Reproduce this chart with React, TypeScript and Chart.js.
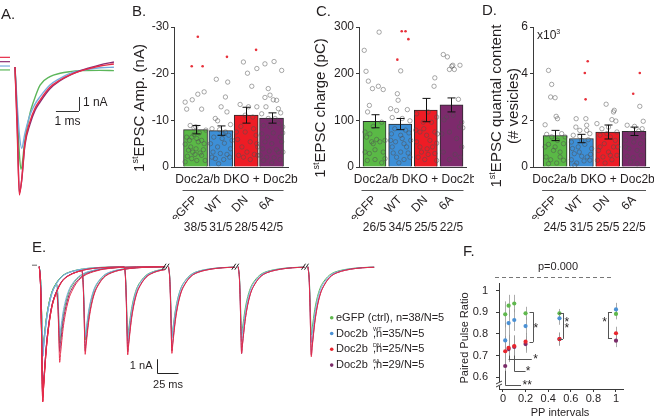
import React, { useEffect, useRef } from 'react';
import { Chart, registerables } from 'chart.js';

Chart.register(...registerables);

const FONT = '"Liberation Sans", Arial, Helvetica, sans-serif';
const INK = '#231f20';
const AXIS = '#3a3a3a';
Chart.defaults.font.family = FONT;

// ---------------- shared ----------------
const GROUPS = ['eGFP', 'WT', 'DN', '6A'];
const BAR_FILL = ['#5ab946', '#3d8fd7', '#ee1c25', '#7d2a6c'];
const TRACE = ['#5cb65a', '#78acdd', '#e62b48', '#8b2d72'];
const DOT = ['#5fb84d', '#4a90d4', '#e8262e', '#7a2b68'];

// ---------------- A: example traces (t in ms, I in nA) ----------------
const A_T_EGFP = [0, 0.1, 0.19, 0.26, 0.43, 0.65, 0.8, 1.09, 1.52, 1.96, 2.39, 2.83, 3.7, 4.3];
const A_I_EGFP = [0, -3.4, -6.2, -7.31, -5.21, -3.31, -2.5, -1.29, -0.69, -0.45, -0.33, -0.26, -0.24, -0.26];
const A_T_WT = [0, 0.1, 0.19, 0.29, 0.43, 0.65, 0.87, 1.09, 1.52, 1.96, 2.39, 2.83, 3.7, 4.3];
const A_I_WT = [0, -2.8, -4.8, -5.81, -4.74, -3.43, -2.65, -2.12, -1.29, -0.81, -0.45, -0.26, -0.05, -0.02];
const A_T_DN = [0, 0.1, 0.19, 0.29, 0.43, 0.65, 0.87, 1.09, 1.52, 1.96, 2.39, 2.83, 3.26, 3.7, 4.3];
const A_I_DN = [0, -4.8, -9.14, -8.07, -5.45, -3.9, -2.95, -2.36, -1.45, -0.93, -0.57, -0.29, -0.1, 0.07, 0.21];
const A_T_6A = [0, 0.1, 0.19, 0.29, 0.43, 0.65, 0.87, 1.09, 1.52, 1.96, 2.39, 2.83, 3.26, 3.7, 4.3];
const A_I_6A = [0, -4.2, -9.0, -8.1, -5.6, -4.1, -3.1, -2.5, -1.55, -0.98, -0.58, -0.27, -0.05, 0.15, 0.36];
const A_BASE = [-0.21, 0.07, 0.69, 0.38];

// ---------------- B: 1st EPSC amplitude (nA) ----------------
const B_TICKS = [-30, -20, -10, 0];
const B_MEAN = [-8.0, -7.8, -11.1, -10.5];
const B_SEM = [0.9, 1.0, 1.7, 1.1];
const B_COUNTS = ['38/5', '31/5', '28/5', '42/5'];
const B_EGFP: [number, number][] = [[-13.9, -0.41], [-12.4, -0.35], [-14.4, -0.13], [-15.6, 0.09], [-12.4, 0.24], [-16.1, 0.34], [-8.6, 0.01], [-8.4, -0.06], [-6.4, -0.35], [-5.7, -0.24], [-6.4, -0.15], [-7.0, -0.06], [-6.1, 0.05], [-5.4, 0.11], [-5.7, 0.24], [-5.0, 0.34], [-4.9, -0.41], [-3.6, -0.28], [-3.2, -0.11], [-3.9, 0.02], [-3.0, 0.18], [-3.7, 0.31], [-2.3, -0.32], [-1.8, -0.15], [-1.4, 0.05], [-2.5, 0.24], [-1.4, 0.38], [-1.1, -0.41], [-2.7, -0.02], [-4.3, -0.19], [-7.3, 0.15], [-7.9, 0.41], [-8.9, -0.21]];
const B_WT: [number, number][] = [[-18.8, -0.18], [-18.2, 0.27], [-15.0, 0.18], [-12.9, 0.01], [-11.8, 0.24], [-10.4, -0.22], [-9.9, -0.13], [-9.1, 0.38], [-8.2, -0.35], [-8.0, -0.05], [-7.5, 0.18], [-6.4, -0.28], [-6.1, 0.05], [-6.8, 0.31], [-5.0, -0.41], [-4.3, -0.13], [-5.1, 0.14], [-3.9, 0.38], [-3.2, -0.31], [-2.9, -0.02], [-2.7, 0.24], [-1.8, -0.22], [-1.6, 0.11], [-2.1, 0.35], [-0.7, -0.09], [-2.1, -0.35], [-5.7, 0.44], [-7.1, 0.09]];
const B_DN: [number, number][] = [[-22.5, -0.11], [-20.1, 0.05], [-21.1, 0.42], [-17.3, 0.22], [-12.9, 0.09], [-12.9, 0.42], [-13.4, -0.24], [-7.5, -0.39], [-7.5, -0.04], [-8.2, 0.29], [-5.9, -0.34], [-5.4, 0.16], [-5.0, 0.42], [-4.3, -0.17], [-3.2, 0.03], [-2.7, 0.32], [-2.5, 0.45], [-2.5, -0.3], [-2.1, -0.11], [-1.6, 0.16], [-6.8, 0.39], [-8.7, -0.21], [-4.3, 0.45], [-11.1, -0.04], [-10.7, 0.26]];
const B_6A: [number, number][] = [[-22.6, 0.1], [-22.1, -0.26], [-20.7, 0.4], [-16.8, -0.13], [-15.4, -0.06], [-14.4, 0.07], [-14.3, 0.2], [-12.5, 0.27], [-12.9, -0.22], [-11.4, -0.39], [-11.6, 0.36], [-8.9, -0.32], [-8.6, -0.06], [-9.4, 0.27], [-8.6, 0.44], [-7.1, -0.39], [-6.4, -0.16], [-7.3, 0.07], [-6.4, 0.34], [-5.4, -0.26], [-5.0, 0.01], [-5.4, 0.4], [-3.9, -0.35], [-3.4, -0.09], [-3.7, 0.2], [-3.2, 0.45], [-2.1, -0.19], [-2.0, 0.1], [-1.6, 0.34], [-1.4, -0.32], [-0.9, 0.01], [-7.3, 0.44], [-10.4, 0.14], [-10.4, -0.13], [-2.5, -0.45], [-3.2, 0.27], [-14.9, -0.26]];
const B_RED: [number, number, number][] = [[0, -21.6, -0.15], [0, -27.9, 0.09], [0, -21.6, 0.28], [1, -23.6, 0.24], [2, -25.1, 0.39]];

// ---------------- C: 1st EPSC charge (pC) ----------------
const C_TICKS = [0, 100, 200, 300];
const C_MEAN = [98, 92, 122, 133];
const C_SEM = [14, 12, 25, 15];
const C_COUNTS = ['26/5', '34/5', '25/5', '22/5'];
const C_EGFP: [number, number][] = [[250, -0.4], [205, -0.33], [184, -0.24], [168, -0.08], [173, 0.15], [289, 0.18], [166, 0.34], [132, -0.2], [118, -0.27], [75, -0.37], [71, -0.18], [87, -0.05], [96, 0.28], [59, 0.08], [54, -0.11], [54, 0.21], [57, 0.41], [32, -0.37], [29, -0.2], [37, 0.02], [32, 0.34], [14, -0.28], [16, 0.02], [9, 0.28], [18, 0.41], [64, -0.31], [50, -0.05]];
const C_WT: [number, number][] = [[206, 0.02], [157, -0.11], [143, -0.08], [125, -0.37], [121, -0.14], [123, 0.28], [106, -0.31], [104, 0.08], [99, 0.38], [82, -0.21], [79, 0.21], [71, -0.34], [68, 0.02], [73, 0.34], [54, -0.18], [50, 0.15], [57, 0.41], [43, -0.31], [32, 0.02], [30, 0.31], [21, -0.14], [16, 0.15], [21, 0.38], [9, -0.05], [43, 0.25], [57, -0.37], [61, 0.08], [30, -0.27]];
const C_DN: [number, number][] = [[191, 0.35], [173, 0.32], [118, 0.09], [114, -0.36], [96, -0.1], [96, 0.22], [107, 0.42], [75, -0.23], [68, 0.03], [75, 0.35], [54, -0.36], [57, 0.16], [51, 0.42], [32, -0.17], [27, 0.09], [29, 0.35], [21, -0.3], [16, -0.04], [14, 0.42], [43, 0.26], [43, -0.23], [39, 0.05], [82, -0.08], [79, -0.39], [71, 0.45]];
const C_6A: [number, number][] = [[241, -0.32], [236, -0.16], [218, 0.05], [209, -0.08], [209, 0.11], [218, 0.33], [216, 0.01], [145, 0.27], [101, -0.29], [107, -0.19], [111, 0.07], [96, 0.4], [86, 0.31], [84, 0.44], [71, -0.38], [75, -0.08], [61, 0.2], [43, 0.4], [32, -0.32], [27, 0.14], [16, -0.08], [21, 0.33]];
const C_RED: [number, number, number][] = [[1, 291, 0.06], [1, 291, 0.21], [1, 274, 0.32], [1, 230, -0.11]];

// ---------------- D: quantal content (x10^3 vesicles) ----------------
const D_TICKS = [0, 2, 4, 6];
const D_MEAN = [1.35, 1.22, 1.5, 1.53];
const D_SEM = [0.22, 0.18, 0.3, 0.18];
const D_COUNTS = ['24/5', '31/5', '25/5', '22/5'];
const D_EGFP: [number, number][] = [[4.14, -0.25], [3.54, -0.13], [3.0, -0.17], [2.97, 0], [2.17, 0.04], [2.07, 0.09], [1.81, -0.38], [1.4, -0.32], [1.43, 0.25], [1.29, -0.13], [1.14, 0.09], [0.97, -0.25], [1.0, 0.32], [0.71, -0.06], [0.64, 0.19], [0.43, -0.34], [0.31, -0.17], [0.17, 0.06], [0.29, 0.32], [0.14, -0.25], [0.43, 0.19], [0.86, 0], [0.86, -0.38], [1.29, 0.38]];
const D_WT: [number, number][] = [[1.71, -0.21], [2.07, 0.17], [1.79, 0.2], [1.57, 0.2], [1.36, -0.31], [1.31, -0.06], [1.43, 0.32], [1.07, -0.38], [0.86, -0.12], [0.97, 0.13], [0.79, 0.39], [0.57, -0.27], [0.46, 0.01], [0.43, 0.22], [0.31, -0.38], [0.17, -0.18], [0.26, 0.1], [0.29, 0.32], [0.64, -0.08], [0.07, -0.25], [0.54, 0.35], [1.14, 0.01], [0.79, -0.34], [1.17, 0.26], [1.57, -0.06], [2.07, -0.2]];
const D_DN: [number, number][] = [[2.69, -0.06], [2.36, 0.22], [2.43, 0.25], [2.03, 0.16], [1.97, 0.31], [1.86, -0.41], [1.64, -0.22], [1.71, 0.03], [1.5, 0.35], [1.36, -0.29], [1.29, 0.1], [1.0, -0.13], [0.86, 0.22], [0.71, -0.35], [0.64, 0.03], [0.5, 0.35], [0.43, -0.18], [0.31, 0.16], [0.17, -0.1], [0.29, -0.39], [1.14, 0.29], [0.86, -0.29], [0.5, 0.1], [0.86, 0.38], [1.43, -0.03]];
const D_6A: [number, number][] = [[2.6, 0.22], [1.96, 0.35], [1.64, 0.31], [1.79, -0.26], [1.74, 0.02], [1.54, 0.18], [1.43, -0.16], [1.14, -0.32], [1.07, -0.01], [1.0, 0.25], [0.79, -0.2], [0.71, 0.12], [0.46, -0.26], [0.4, -0.03], [0.5, 0.27], [0.21, -0.13], [0.14, 0.12], [0.86, -0.32], [1.29, 0.35], [1.29, 0.06]];
const D_RED: [number, number, number][] = [[1, 4.53, 0.24], [1, 4.03, 0.13], [1, 2.9, 0.16], [3, 3.14, -0.03], [3, 4.03, 0.22]];

// ---------------- E: paired-pulse traces ----------------
const E_TPL_T = [-4, -2.5, -1.5, -0.8, 0, 1, 2.5, 4, 6, 8.5, 11.5, 15, 19, 24, 31, 40, 52, 68, 90, 130];
const E_TPL_V = [0, 0.15, 0.45, 0.75, 1, 0.9, 0.76, 0.63, 0.5, 0.38, 0.28, 0.21, 0.15, 0.1, 0.065, 0.04, 0.02, 0.008, 0.002, 0];
const E_INTERVALS = [20, 50, 100, 200, 500, 1000];
const E_P1 = [6.07, 6.4, 9.64, 9.3];
const E_P2_EGFP = [5.48, 5.24, 5.05, 5.0, 4.88, 4.88];
const E_P2_WT = [5.0, 5.0, 5.3, 5.1, 5.3, 5.4];
const E_P2_DN = [6.83, 6.26, 6.3, 6.19, 6.19, 6.43];
const E_P2_6A = [6.05, 6.0, 6.1, 6.0, 6.2, 6.3];
const LEGEND_NAME = ['eGFP (ctrl),', 'Doc2b', 'Doc2b', 'Doc2b'];
const LEGEND_SUP = ['', 'WT', 'DN', '6A'];
const LEGEND_N = ['n=38/N=5', 'n=35/N=5', 'n=25/N=5', 'n=29/N=5'];

// ---------------- F: paired pulse ratio ----------------
const F_X = [0.02, 0.05, 0.1, 0.2, 0.5, 1];
const F_EGFP = [0.89, 0.93, 0.94, 0.895, 0.895, 0.892];
const F_WT = [0.77, 0.85, 0.864, 0.836, 0.872, 0.913];
const F_DN = [0.72, 0.736, 0.744, 0.764, 0.776, 0.803];
const F_6A = [0.652, 0.73, 0.74, 0.753, 0.776, 0.769];
const F_SEM_EGFP = [0.06, 0.05, 0.04, 0.03, 0.02, 0.025];
const F_SEM_WT = [0.08, 0.06, 0.05, 0.04, 0.03, 0.03];
const F_SEM_DN = [0.07, 0.06, 0.05, 0.04, 0.03, 0.03];
const F_SEM_6A = [0.07, 0.06, 0.05, 0.04, 0.03, 0.03];
const F_XTICKS = [0, 0.2, 0.4, 0.6, 0.8, 1];
const F_YTICKS = [0.6, 0.7, 0.8, 0.9, 1];

// ---------------- layout (page px) ----------------
type Box = { x: number; y: number; w: number; h: number };
const BOX_A: Box = { x: 0, y: 0, w: 128, h: 240 };
const BOX_B: Box = { x: 126, y: 0, w: 174, h: 240 };
const BOX_C: Box = { x: 300, y: 0, w: 174, h: 240 };
const BOX_D: Box = { x: 474, y: 0, w: 180, h: 240 };
const BOX_E: Box = { x: 28, y: 240, w: 425, h: 179 };
const BOX_F: Box = { x: 455, y: 244, w: 199, h: 175 };

function txt(ctx: CanvasRenderingContext2D, s: string, x: number, y: number, size: number, align: CanvasTextAlign = 'left', color = INK) {
  ctx.save();
  ctx.font = `${size}px ${FONT}`;
  ctx.fillStyle = color;
  ctx.textAlign = align;
  ctx.textBaseline = 'middle';
  ctx.fillText(s, x, y);
  ctx.restore();
}

function richText(ctx: CanvasRenderingContext2D, parts: [string, boolean][], x: number, y: number, size: number, align: 'left' | 'center' | 'right', rotate: boolean) {
  ctx.save();
  ctx.translate(x, y);
  if (rotate) ctx.rotate(-Math.PI / 2);
  const supSize = Math.round(size * 0.62);
  const widths = parts.map(([s, sup]) => {
    ctx.font = `${sup ? supSize : size}px ${FONT}`;
    return ctx.measureText(s).width;
  });
  const total = widths.reduce((a, b) => a + b, 0);
  let cx = align === 'center' ? -total / 2 : align === 'right' ? -total : 0;
  ctx.fillStyle = INK;
  ctx.textAlign = 'left';
  ctx.textBaseline = 'alphabetic';
  parts.forEach(([s, sup], i) => {
    ctx.font = `${sup ? supSize : size}px ${FONT}`;
    ctx.fillText(s, cx, sup ? -size * 0.08 : size * 0.36);
    cx += widths[i];
  });
  ctx.restore();
}

function line(ctx: CanvasRenderingContext2D, x1: number, y1: number, x2: number, y2: number) {
  ctx.beginPath();
  ctx.moveTo(x1, y1);
  ctx.lineTo(x2, y2);
  ctx.stroke();
}

const zeroPad = (sc: any) => {
  sc.paddingLeft = 0;
  sc.paddingRight = 0;
  sc.paddingTop = 0;
  sc.paddingBottom = 0;
};

// ---------------- bar panels ----------------
interface BarSpec {
  box: Box;
  area: { l: number; t: number; r: number; b: number };
  xRange: [number, number];
  yRange: [number, number];
  reverse: boolean;
  ticks: number[];
  mean: number[];
  sem: number[];
  dots: [number, number][][];
  red: [number, number, number][];
  counts: string[];
  barW: number;
  letter: string;
  letterPos: [number, number];
  title: [string, boolean][][];
  titleX: number[];
  titleY: number;
  groupShift: number;
  extra?: (ctx: CanvasRenderingContext2D, box: Box) => void;
}

function barConfig(s: BarSpec): any {
  const yW = s.area.l - s.box.x;
  const padR = s.box.x + s.box.w - s.area.r;
  const padT = s.area.t - s.box.y;
  const below = s.box.y + s.box.h - s.area.b;
  const H1 = 52;
  const H2 = 18;
  const padB = below - H1 - H2;
  const idx = [0, 1, 2, 3];
  const datasets: any[] = [
    {
      type: 'bar',
      data: s.mean.map((m, i) => ({ x: i, y: m })),
      backgroundColor: BAR_FILL,
      borderColor: '#2b2b2b',
      borderWidth: 1,
      barThickness: s.barW,
      order: 3,
    },
  ];
  s.dots.forEach((g, gi) =>
    datasets.push({
      type: 'scatter',
      data: g.map(([v, j]) => ({ x: gi + j, y: v })),
      pointRadius: 2.2,
      pointBorderWidth: 0.9,
      pointBorderColor: 'rgba(80,80,80,0.55)',
      pointBackgroundColor: 'rgba(0,0,0,0)',
      order: 2,
    })
  );
  datasets.push({
    type: 'scatter',
    data: s.red.map(([gi, v, j]) => ({ x: gi + j, y: v })),
    pointRadius: 1.3,
    pointBorderWidth: 0,
    pointBackgroundColor: '#e8303a',
    order: 1,
  });
  const decor = {
    id: 'barDecor',
    afterDatasetsDraw(chart: any) {
      const { ctx } = chart;
      const x = chart.scales.x;
      const y = chart.scales.y;
      ctx.save();
      ctx.strokeStyle = '#111';
      ctx.lineWidth = 1;
      s.mean.forEach((m, i) => {
        const px = Math.round(x.getPixelForValue(i)) + 0.5;
        const y1 = y.getPixelForValue(m - s.sem[i]);
        const y2 = y.getPixelForValue(m + s.sem[i]);
        line(ctx, px, y1, px, y2);
        line(ctx, px - 4, y1, px + 4, y1);
        line(ctx, px - 4, y2, px + 4, y2);
      });
      ctx.restore();
    },
    afterDraw(chart: any) {
      const { ctx, chartArea } = chart;
      const x = chart.scales.x;
      const c0 = x.getPixelForValue(0);
      const c3 = x.getPixelForValue(3);
      const mid = (c0 + c3) / 2 + s.groupShift;
      txt(ctx, 'Doc2a/b DKO + Doc2b', mid, chartArea.bottom + 13, 12, 'center');
      ctx.save();
      ctx.strokeStyle = '#555';
      ctx.lineWidth = 1;
      line(ctx, c0 - 13, Math.round(chartArea.bottom + 23) + 0.5, c3 + 12, Math.round(chartArea.bottom + 23) + 0.5);
      ctx.restore();
      txt(ctx, s.letter, s.letterPos[0] - s.box.x, s.letterPos[1] - s.box.y, 15, 'left');
      s.title.forEach((parts, li) => richText(ctx, parts, s.titleX[li] - s.box.x, s.titleY - s.box.y, 15, 'center', true));
      if (s.extra) s.extra(ctx, s.box);
    },
  };
  const tickFont = { family: FONT, size: 12 };
  return {
    type: 'bar',
    data: { datasets },
    options: {
      animation: false,
      responsive: false,
      devicePixelRatio: 1,
      layout: { padding: { left: 0, right: padR, top: padT, bottom: padB } },
      plugins: { legend: { display: false }, tooltip: { enabled: false } },
      scales: {
        x: {
          type: 'linear',
          position: 'bottom',
          min: s.xRange[0],
          max: s.xRange[1],
          offset: false,
          afterBuildTicks: (sc: any) => {
            sc.ticks = idx.map((v) => ({ value: v }));
          },
          ticks: { autoSkip: false, minRotation: 45, maxRotation: 45, padding: 26, color: INK, font: tickFont, callback: (v: any) => GROUPS[v] },
          grid: { display: false, drawTicks: false },
          border: { display: true, color: AXIS, width: 1 },
          afterFit: (sc: any) => {
            sc.height = H1;
            zeroPad(sc);
          },
        },
        xc: {
          type: 'linear',
          position: 'bottom',
          weight: 1,
          min: s.xRange[0],
          max: s.xRange[1],
          offset: false,
          afterBuildTicks: (sc: any) => {
            sc.ticks = idx.map((v) => ({ value: v }));
          },
          ticks: { autoSkip: false, minRotation: 0, maxRotation: 0, padding: 1, color: INK, font: tickFont, callback: (v: any) => s.counts[v] },
          grid: { display: false, drawTicks: false },
          border: { display: false },
          afterFit: (sc: any) => {
            sc.height = H2;
            zeroPad(sc);
          },
        },
        y: {
          type: 'linear',
          min: s.yRange[0],
          max: s.yRange[1],
          reverse: s.reverse,
          afterBuildTicks: (sc: any) => {
            sc.ticks = s.ticks.map((v) => ({ value: v }));
          },
          ticks: { padding: 2, color: INK, font: tickFont },
          grid: { display: true, drawOnChartArea: false, drawTicks: true, tickLength: 3, color: AXIS },
          border: { display: true, color: AXIS, width: 1 },
          afterFit: (sc: any) => {
            sc.width = yW;
            zeroPad(sc);
          },
        },
      },
    },
    plugins: [decor],
  };
}

const ST: [string, boolean][] = [['1', false], ['st', true]];

const SPEC_B: BarSpec = {
  box: BOX_B,
  area: { l: 174, t: 27, r: 288, b: 167 },
  xRange: [-0.85, 3.65],
  yRange: [-30, 0],
  reverse: true,
  ticks: B_TICKS,
  mean: B_MEAN,
  sem: B_SEM,
  dots: [B_EGFP, B_WT, B_DN, B_6A],
  red: B_RED,
  counts: B_COUNTS,
  barW: 24,
  letter: 'B.',
  letterPos: [132, 12],
  title: [[...ST, ['EPSC Amp. (nA)', false]]],
  titleX: [139],
  titleY: 108,
  groupShift: 3,
};

const SPEC_C: BarSpec = {
  box: BOX_C,
  area: { l: 359, t: 27, r: 466, b: 167 },
  xRange: [-0.604, 3.565],
  yRange: [0, 300],
  reverse: false,
  ticks: C_TICKS,
  mean: C_MEAN,
  sem: C_SEM,
  dots: [C_EGFP, C_WT, C_DN, C_6A],
  red: C_RED,
  counts: C_COUNTS,
  barW: 23,
  letter: 'C.',
  letterPos: [316, 12],
  title: [[...ST, ['EPSC charge (pC)', false]]],
  titleX: [320],
  titleY: 108,
  groupShift: 2,
};

const SPEC_D: BarSpec = {
  box: BOX_D,
  area: { l: 533, t: 27, r: 649, b: 167 },
  xRange: [-0.84, 3.57],
  yRange: [0, 6],
  reverse: false,
  ticks: D_TICKS,
  mean: D_MEAN,
  sem: D_SEM,
  dots: [D_EGFP, D_WT, D_DN, D_6A],
  red: D_RED,
  counts: D_COUNTS,
  barW: 24,
  letter: 'D.',
  letterPos: [482, 11],
  title: [[...ST, ['EPSC quantal content', false]], [['(# vesicles)', false]]],
  titleX: [496, 513],
  titleY: 106,
  groupShift: -1,
  extra: (ctx, box) => {
    richText(ctx, [['x10', false], ['3', true]], 537 - box.x, 35 - box.y, 12, 'left', false);
  },
};

// ---------------- A config ----------------
function configA(): any {
  const b = BOX_A;
  const xMin = (b.x - 15) / 23;
  const xMax = (b.x + b.w - 15) / 23;
  const yMax = (67 - b.y) / 14;
  const yMin = (67 - (b.y + b.h)) / 14;
  const traces: [number[], number[], number][] = [
    [A_T_DN, A_I_DN, 2],
    [A_T_6A, A_I_6A, 3],
    [A_T_WT, A_I_WT, 1],
    [A_T_EGFP, A_I_EGFP, 0],
  ];
  const datasets: any[] = traces.map(([t, v, g]) => ({
    data: t.map((tt, i) => ({ x: tt, y: v[i] })),
    borderColor: TRACE[g],
    borderWidth: 1.4,
    pointRadius: 0,
    cubicInterpolationMode: 'monotone',
    fill: false,
  }));
  A_BASE.forEach((lv, g) =>
    datasets.push({ data: [{ x: xMin, y: lv }, { x: xMin + 10 / 23, y: lv }], borderColor: TRACE[g], borderWidth: 1.2, pointRadius: 0 })
  );
  const corner = { t: 2.78, i: -3.14 };
  const decor = {
    id: 'aDecor',
    afterDraw(chart: any) {
      const { ctx } = chart;
      const x = chart.scales.x;
      const y = chart.scales.y;
      const cx = x.getPixelForValue(corner.t);
      const cy = y.getPixelForValue(corner.i);
      const top = y.getPixelForValue(corner.i + 1);
      const left = x.getPixelForValue(corner.t - 1);
      ctx.save();
      ctx.strokeStyle = '#333';
      ctx.lineWidth = 1;
      line(ctx, Math.round(cx) + 0.5, top, Math.round(cx) + 0.5, cy);
      line(ctx, left, Math.round(cy) + 0.5, cx, Math.round(cy) + 0.5);
      ctx.restore();
      txt(ctx, '1 nA', cx + 4, (top + cy) / 2 - 1, 12, 'left');
      txt(ctx, '1 ms', (left + cx) / 2, cy + 11, 12, 'center');
      txt(ctx, 'A.', 1 - b.x, 15 - b.y, 15, 'left');
    },
  };
  return {
    type: 'line',
    data: { datasets },
    options: {
      animation: false,
      responsive: false,
      devicePixelRatio: 1,
      layout: { padding: 0 },
      plugins: { legend: { display: false }, tooltip: { enabled: false } },
      scales: {
        x: { type: 'linear', display: false, min: xMin, max: xMax },
        y: { type: 'linear', display: false, min: yMin, max: yMax },
      },
    },
    plugins: [decor],
  };
}

// ---------------- E config ----------------
function tpl(t: number): number {
  const n = E_TPL_T.length;
  if (t <= E_TPL_T[0] || t >= E_TPL_T[n - 1]) return 0;
  for (let i = 1; i < n; i++) {
    if (t <= E_TPL_T[i]) {
      const f = (t - E_TPL_T[i - 1]) / (E_TPL_T[i] - E_TPL_T[i - 1]);
      return E_TPL_V[i - 1] + f * (E_TPL_V[i] - E_TPL_V[i - 1]);
    }
  }
  return 0;
}

function sweep(p1: number, iv: number, a2: number, from: number, to: number, shift: number, withP1: boolean) {
  const ts = new Set<number>([from, to]);
  E_TPL_T.forEach((t) => {
    if (withP1 && t >= from && t <= to) ts.add(t);
    const u = t + iv;
    if (u >= from && u <= to) ts.add(u);
  });
  return Array.from(ts)
    .sort((a, b) => a - b)
    .map((t) => ({ x: t + shift, y: -((withP1 ? p1 * tpl(t) : 0) + a2 * tpl(t - iv)) }));
}

const SEG1_END = 144;
const SEG_GAP = 4;
const SEG_PRE = 4;
const SEG_POST = 74;

function configE(): any {
  const b = BOX_E;
  const X0 = 42.7;
  const PX_MS = 0.85;
  const Y0 = 266.7;
  const PX_NA = 14;
  const xMin = (b.x - X0) / PX_MS;
  const xMax = (b.x + b.w - X0) / PX_MS;
  const yMax = (Y0 - b.y) / PX_NA;
  const yMin = (Y0 - (b.y + b.h)) / PX_NA;
  const p2s = [E_P2_EGFP, E_P2_WT, E_P2_DN, E_P2_6A];
  const order = [2, 3, 1, 0];
  const datasets: any[] = [];
  const breaks: number[] = [SEG1_END];
  let start = SEG1_END + SEG_GAP;
  const segStarts: number[] = [];
  for (let k = 3; k < E_INTERVALS.length; k++) {
    segStarts.push(start);
    const end = start + SEG_PRE + SEG_POST;
    breaks.push(end);
    start = end + SEG_GAP;
  }
  breaks.pop();
  order.forEach((g) => {
    const p1 = E_P1[g];
    const p2 = p2s[g];
    for (let k = 0; k < 3; k++) {
      const iv = E_INTERVALS[k];
      const a2 = p2[k] - p1 * tpl(iv);
      datasets.push({
        data: sweep(p1, iv, a2, E_TPL_T[0], SEG1_END, 0, true),
        borderColor: TRACE[g],
        borderWidth: 1,
        pointRadius: 0,
        cubicInterpolationMode: 'monotone',
      });
    }
    let pts: any[] = [];
    for (let k = 3; k < E_INTERVALS.length; k++) {
      const iv = E_INTERVALS[k];
      const from = iv - SEG_PRE;
      const to = iv + SEG_POST;
      const shift = segStarts[k - 3] - from;
      if (pts.length) pts.push({ x: segStarts[k - 3] - SEG_GAP / 2, y: null });
      pts = pts.concat(sweep(p1, iv, p2[k], from, to, shift, false));
    }
    datasets.push({ data: pts, borderColor: TRACE[g], borderWidth: 1, pointRadius: 0, cubicInterpolationMode: 'monotone', spanGaps: false });
  });
  const bar = { t: 134.8, i: -7.61 };
  const decor = {
    id: 'eDecor',
    afterDraw(chart: any) {
      const { ctx } = chart;
      const x = chart.scales.x;
      const y = chart.scales.y;
      ctx.save();
      ctx.strokeStyle = '#222';
      ctx.lineWidth = 1;
      const y0 = y.getPixelForValue(0);
      breaks.forEach((d) => {
        const px = x.getPixelForValue(d);
        line(ctx, px - 3, y0 + 3, px + 1, y0 - 3);
        line(ctx, px, y0 + 3, px + 4, y0 - 3);
      });
      const cx = Math.round(x.getPixelForValue(bar.t)) + 0.5;
      const cy = Math.round(y.getPixelForValue(bar.i)) + 0.5;
      const top = y.getPixelForValue(bar.i + 1);
      const right = x.getPixelForValue(bar.t + 25);
      line(ctx, cx, top, cx, cy);
      line(ctx, cx, cy, right, cy);
      ctx.strokeStyle = '#666';
      line(ctx, x.getPixelForValue(-12.6), y0 - 1.5, x.getPixelForValue(-6.7), y0 - 1.5);
      ctx.restore();
      txt(ctx, '1 nA', cx - 5, (top + cy) / 2, 11, 'right');
      txt(ctx, '25 ms', (cx + right) / 2, cy + 11, 11, 'center');
      txt(ctx, 'E.', 32 - b.x, 248 - b.y, 15, 'left');
      for (let k = 0; k < 4; k++) {
        const ly = 317.7 + k * 15.8 - b.y;
        const dx = 331.7 - b.x;
        ctx.save();
        ctx.fillStyle = DOT[k];
        ctx.beginPath();
        ctx.arc(dx, ly, 1.8, 0, Math.PI * 2);
        ctx.fill();
        ctx.restore();
        const tx = 336 - b.x;
        if (!LEGEND_SUP[k]) {
          txt(ctx, `${LEGEND_NAME[k]} ${LEGEND_N[k]}`, tx, ly, 11, 'left');
        } else {
          txt(ctx, LEGEND_NAME[k], tx, ly, 11, 'left');
          const sx = 373 - b.x;
          txt(ctx, LEGEND_SUP[k], sx, ly - 4, 5.5, 'left');
          txt(ctx, `,${LEGEND_N[k]}`, sx, ly, 11, 'left');
        }
      }
    },
  };
  return {
    type: 'line',
    data: { datasets },
    options: {
      animation: false,
      responsive: false,
      devicePixelRatio: 1,
      layout: { padding: 0 },
      plugins: { legend: { display: false }, tooltip: { enabled: false } },
      scales: {
        x: { type: 'linear', display: false, min: xMin, max: xMax },
        y: { type: 'linear', display: false, min: yMin, max: yMax },
      },
    },
    plugins: [decor],
  };
}

// ---------------- F config ----------------
function configF(): any {
  const b = BOX_F;
  const area = { l: 499, t: 283, r: 623, b: 389 };
  const yW = area.l - b.x;
  const padR = b.x + b.w - area.r;
  const padT = area.t - b.y;
  const below = b.y + b.h - area.b;
  const vals = [F_EGFP, F_WT, F_DN, F_6A];
  const sems = [F_SEM_EGFP, F_SEM_WT, F_SEM_DN, F_SEM_6A];
  const drawOrder = [0, 1, 2, 3];
  const datasets = drawOrder.map((g) => ({
    data: F_X.map((xv, i) => ({ x: xv, y: vals[g][i] })),
    pointRadius: 2.1,
    pointBorderWidth: 0,
    pointBackgroundColor: DOT[g],
    showLine: false,
  }));
  const decor = {
    id: 'fDecor',
    beforeDatasetsDraw(chart: any) {
      const { ctx } = chart;
      const x = chart.scales.x;
      const y = chart.scales.y;
      ctx.save();
      ctx.strokeStyle = 'rgba(150,150,150,0.8)';
      ctx.lineWidth = 1;
      vals.forEach((v, g) =>
        v.forEach((m, i) => {
          const px = Math.round(x.getPixelForValue(F_X[i])) + 0.5;
          line(ctx, px, y.getPixelForValue(m - sems[g][i]), px, y.getPixelForValue(m + sems[g][i]));
        })
      );
      ctx.restore();
    },
    afterDraw(chart: any) {
      const { ctx, chartArea } = chart;
      const x = chart.scales.x;
      const y = chart.scales.y;
      const X = (v: number) => x.getPixelForValue(v);
      const Y = (v: number) => y.getPixelForValue(v);
      ctx.save();
      ctx.strokeStyle = '#555';
      ctx.lineWidth = 1;
      const br = (xv: number, xt: number, y1: number, y2: number) => {
        line(ctx, Math.round(X(xv)) + 0.5, Y(y1), Math.round(X(xv)) + 0.5, Y(y2));
        line(ctx, X(xt), Math.round(Y(y1)) + 0.5, X(xv), Math.round(Y(y1)) + 0.5);
        line(ctx, X(xt), Math.round(Y(y2)) + 0.5, X(xv), Math.round(Y(y2)) + 0.5);
      };
      br(0.268, 0.235, 0.9, 0.763);
      br(0.531, 0.496, 0.896, 0.777);
      br(0.929, 0.965, 0.9, 0.78);
      const el = (xv: number, yTop: number, yLow: number, xEnd: number) => {
        line(ctx, Math.round(X(xv)) + 0.5, Y(yTop), Math.round(X(xv)) + 0.5, Y(yLow));
        line(ctx, X(xv), Math.round(Y(yLow)) + 0.5, X(xEnd), Math.round(Y(yLow)) + 0.5);
      };
      el(0.05, 0.7, 0.684, 0.255);
      el(0.1, 0.7, 0.629, 0.2);
      el(0.02, 0.63, 0.565, 0.16);
      // axis break mark at the origin
      ctx.strokeStyle = '#ffffff';
      ctx.lineWidth = 3;
      line(ctx, chartArea.left + 0.5, chartArea.bottom - 7, chartArea.left + 0.5, chartArea.bottom - 3);
      ctx.strokeStyle = AXIS;
      ctx.lineWidth = 1;
      line(ctx, chartArea.left - 3, chartArea.bottom - 5, chartArea.left + 3, chartArea.bottom - 8);
      line(ctx, chartArea.left - 3, chartArea.bottom - 2, chartArea.left + 3, chartArea.bottom - 5);
      ctx.setLineDash([4, 3]);
      ctx.strokeStyle = '#777';
      line(ctx, chartArea.left - 4, chartArea.top - 5.5, X(0.973), chartArea.top - 5.5);
      ctx.setLineDash([]);
      ctx.restore();
      txt(ctx, '*', X(0.29), Y(0.825), 12, 'center');
      txt(ctx, '*', X(0.566), Y(0.853), 12, 'center');
      txt(ctx, '*', X(0.566), Y(0.826), 12, 'center');
      txt(ctx, '*', X(0.9), Y(0.852), 12, 'center');
      txt(ctx, '*', X(0.288), Y(0.679), 12, 'center');
      txt(ctx, '*', X(0.222), Y(0.624), 12, 'center');
      txt(ctx, '**', X(0.215), Y(0.56), 12, 'center');
      txt(ctx, 'p=0.000', chartArea.left + 59, chartArea.top - 16, 11, 'center');
      txt(ctx, 'F.', 463 - b.x, 252 - b.y, 15, 'left');
      txt(ctx, 'PP intervals', (chartArea.left + chartArea.right) / 2 - 1, 413 - b.y, 11, 'center');
      ctx.save();
      ctx.translate(465 - b.x, (chartArea.top + chartArea.bottom) / 2 + 2);
      ctx.rotate(-Math.PI / 2);
      txt(ctx, 'Paired Pulse Ratio', 0, 0, 11, 'center');
      ctx.restore();
    },
  };
  const tickFont = { family: FONT, size: 11 };
  const fmt = (v: number) => (v === 0 ? '0' : v === 1 ? '1' : v.toFixed(1));
  return {
    type: 'scatter',
    data: { datasets },
    options: {
      animation: false,
      responsive: false,
      devicePixelRatio: 1,
      layout: { padding: { left: 0, right: padR, top: padT, bottom: 2 } },
      plugins: { legend: { display: false }, tooltip: { enabled: false } },
      scales: {
        x: {
          type: 'linear',
          min: -0.035,
          max: 1.062,
          afterBuildTicks: (sc: any) => {
            sc.ticks = F_XTICKS.map((v) => ({ value: v }));
          },
          ticks: { autoSkip: false, maxRotation: 0, padding: 0, color: INK, font: tickFont, callback: (v: any) => fmt(v) },
          grid: { display: true, drawOnChartArea: false, drawTicks: true, tickLength: 3, color: AXIS },
          border: { display: true, color: AXIS },
          afterFit: (sc: any) => {
            sc.height = below - 2;
            zeroPad(sc);
          },
        },
        y: {
          type: 'linear',
          min: 1 - (area.b - 290.5) / 217,
          max: 1 + (290.5 - area.t) / 217,
          afterBuildTicks: (sc: any) => {
            sc.ticks = F_YTICKS.map((v) => ({ value: v }));
          },
          ticks: { padding: 8, color: INK, font: tickFont, callback: (v: any) => fmt(v) },
          grid: { display: true, drawOnChartArea: false, drawTicks: true, tickLength: 3, color: AXIS },
          border: { display: true, color: AXIS },
          afterFit: (sc: any) => {
            sc.width = yW;
            zeroPad(sc);
          },
        },
      },
    },
    plugins: [decor],
  };
}

// ---------------- React ----------------
function ChartCanvas({ box, make }: { box: Box; make: () => any }) {
  const ref = useRef<HTMLCanvasElement | null>(null);
  useEffect(() => {
    if (!ref.current) return;
    const chart = new Chart(ref.current, make());
    return () => chart.destroy();
  }, []);
  return (
    <canvas
      ref={ref}
      width={box.w}
      height={box.h}
      style={{ position: 'absolute', left: box.x, top: box.y, width: box.w, height: box.h, display: 'block' }}
    />
  );
}

export default function App() {
  return (
    <div style={{ position: 'fixed', left: 0, top: 0, width: 654, height: 419, background: '#ffffff', overflow: 'hidden', fontFamily: FONT }}>
      <ChartCanvas box={BOX_A} make={configA} />
      <ChartCanvas box={BOX_B} make={() => barConfig(SPEC_B)} />
      <ChartCanvas box={BOX_C} make={() => barConfig(SPEC_C)} />
      <ChartCanvas box={BOX_D} make={() => barConfig(SPEC_D)} />
      <ChartCanvas box={BOX_E} make={configE} />
      <ChartCanvas box={BOX_F} make={configF} />
    </div>
  );
}
